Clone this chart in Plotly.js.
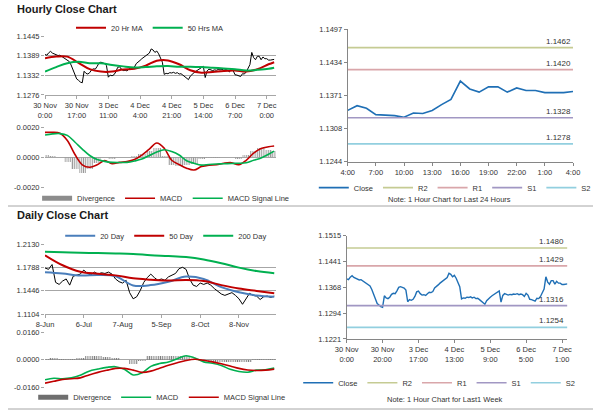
<!DOCTYPE html>
<html><head><meta charset="utf-8">
<script src="https://cdn.plot.ly/plotly-3.0.1.min.js"></script>
<style>html,body{margin:0;padding:0;background:#fff;}#c{width:600px;height:413px;}</style>
</head><body><div id="c"></div>
<script>
// ---------- DATA ----------
// Hourly closes, 30 Nov 0:00 .. 7 Dec 4:00 (124 hourly bars)
const hourlyClose = [
1.1392,1.1390,1.1397,1.1401,1.1396,1.1393,1.1392,1.1389,1.1390,1.1386,
1.1383,1.1380,1.1376,1.1372,1.1362,1.1348,1.1330,1.1322,1.1318,1.1313,
1.1311,1.1344,1.1338,1.1336,1.1340,1.1348,1.1351,1.1350,1.1358,1.1368,
1.1370,1.1367,1.1366,1.1360,1.1327,1.1333,1.1331,1.1334,1.1342,1.1355,
1.1357,1.1350,1.1346,1.1347,1.1345,1.1350,1.1354,1.1353,1.1356,1.1366,
1.1372,1.1375,1.1380,1.1384,1.1388,1.1392,1.1396,1.1408,1.1405,1.1398,
1.1402,1.1394,1.1380,1.1370,1.1335,1.1338,1.1337,1.1340,1.1339,1.1341,
1.1338,1.1340,1.1336,1.1337,1.1333,1.1328,1.1323,1.1320,1.1330,1.1336,
1.1340,1.1344,1.1348,1.1352,1.1355,1.1358,1.1326,1.1345,1.1350,1.1349,
1.1346,1.1348,1.1347,1.1349,1.1348,1.1350,1.1347,1.1349,1.1347,
1.1342,1.1351,1.1346,1.1334,1.1333,1.1332,1.1329,1.1337,1.1336,1.1342,
1.1353,1.1363,1.1398,1.1383,1.1377,1.1387,1.1387,1.1377,1.1385,1.1380,
1.1380,1.1376,1.1376,1.1376,1.1378];
// Hourly moving averages (sampled bars)
const hMaIdx = [0,6,12,18,24,30,36,42,48,54,60,66,72,78,84,90,96,102,108,114,120,123];
const ma20h = [1.1381,1.1386,1.1386,1.1368,1.1350,1.1343,1.1343,1.1349,1.1351,1.1360,1.1374,1.1375,1.1364,1.1347,1.1340,1.1342,1.1345,1.1346,1.1343,1.1350,1.1364,1.1370];
const ma50h = [1.1343,1.1356,1.1367,1.1371,1.1367,1.1367,1.1362,1.1358,1.1355,1.1356,1.1358,1.1359,1.1357,1.1357,1.1356,1.1354,1.1352,1.1350,1.1346,1.1348,1.1351,1.1354];
// Hourly MACD (sampled bars)
const hMacdIdx = [0,4,8,12,16,20,24,28,32,36,40,44,48,52,56,60,64,68,72,76,80,84,88,92,96,100,104,108,112,116,120,123];
const hMacd = [0.00166,0.00167,0.00160,0.00112,0.00020,-0.00050,-0.00066,-0.00050,-0.00022,-0.00043,-0.00034,-0.00029,-0.00015,0.00015,0.00055,0.00095,0.00060,-0.00020,-0.00048,-0.00073,-0.00085,-0.00062,-0.00052,-0.00050,-0.00040,-0.00036,-0.00050,-0.00020,0.00028,0.00058,0.00070,0.00075];
const hSignal = [0.00148,0.00156,0.00158,0.00146,0.00102,0.00055,0.00012,-0.00015,-0.00027,-0.00034,-0.00035,-0.00034,-0.00025,-0.00012,0.00012,0.00035,0.00050,0.00038,0.00015,-0.00023,-0.00040,-0.00052,-0.00048,-0.00045,-0.00043,-0.00041,-0.00040,-0.00036,-0.00020,-0.00005,0.00020,0.00041];
const hDiv = [0.00015,0.00010,0.00005,-0.00030,-0.00080,-0.00105,-0.00080,-0.00040,0.00005,-0.00010,0.00000,0.00005,0.00010,0.00025,0.00040,0.00060,0.00010,-0.00050,-0.00060,-0.00050,-0.00045,-0.00010,-0.00005,-0.00005,0.00003,0.00005,-0.00010,0.00015,0.00045,0.00060,0.00050,0.00040];
const hTickIdx = [0,17,34,51,68,85,102,119];
const hTickText = ['30 Nov<br>0:00','30 Nov<br>17:00','3 Dec<br>11:00','4 Dec<br>4:00','4 Dec<br>21:00','5 Dec<br>14:00','6 Dec<br>7:00','7 Dec<br>0:00'];
const wTickIdx = [0,20,40,60,80,100,120];
const wTickText = ['30 Nov<br>0:00','30 Nov<br>20:00','3 Dec<br>17:00','4 Dec<br>13:00','5 Dec<br>9:00','6 Dec<br>5:00','7 Dec<br>1:00'];
const dTickIdx24 = [99,102,105,108,111,114,117,120,123];
const dTickText24 = ['4:00','7:00','10:00','13:00','16:00','19:00','22:00','1:00','4:00'];
// Pivot levels
const levelNames = ['R2','R1','S1','S2'];
const levelColors = ['#c5cb93','#d9a6aa','#a197c3','#92cfdf'];
const levels24h = [1.1462,1.1420,1.1328,1.1278];
const levelsWeek = [1.1480,1.1429,1.1316,1.1254];
// Daily closes (every 2nd trading day from 8 Jun)
const dCloseIdx = [0,2,4,6,8,10,12,14,16,18,20,22,24,26,28,30,32,34,36,38,40,42,44,46,48,50,52,54,56,58,60,62,64,66,68,70,72,74,76,78,80,82,84,86,88,90,92,94,96,98,100,102,104,106,108,110,112,114,116,118,120,122,124,126,128,130];
const dailyClose = [1.1780,1.1760,1.1830,1.1570,1.1540,1.1590,1.1620,1.1530,1.1660,1.1680,1.1690,1.1750,1.1700,1.1680,1.1720,1.1690,1.1710,1.1700,1.1720,1.1690,1.1620,1.1580,1.1560,1.1600,1.1420,1.1330,1.1360,1.1450,1.1570,1.1640,1.1690,1.1640,1.1600,1.1620,1.1600,1.1650,1.1680,1.1700,1.1770,1.1790,1.1760,1.1620,1.1530,1.1510,1.1560,1.1540,1.1560,1.1530,1.1480,1.1440,1.1400,1.1380,1.1400,1.1420,1.1380,1.1330,1.1250,1.1330,1.1410,1.1380,1.1370,1.1320,1.1360,1.1370,1.1350,1.1370];
const dMaIdx = [0,10,20,30,40,50,60,70,80,90,100,110,120,130];
const ma20d = [1.1718,1.1700,1.1669,1.1677,1.1660,1.1525,1.1530,1.1580,1.1654,1.1620,1.1500,1.1425,1.1378,1.1361];
const ma50d = [1.1966,1.1820,1.1725,1.1695,1.1672,1.1630,1.1610,1.1596,1.1605,1.1590,1.1530,1.1480,1.1445,1.1411];
const ma200d = [1.2016,1.2010,1.2003,1.1998,1.1993,1.1985,1.1966,1.1955,1.1940,1.1905,1.1850,1.1785,1.1735,1.1703];
const dMacdIdx = [0,5,10,15,20,25,30,35,40,45,50,55,60,65,70,75,80,85,90,95,100,105,110,115,120,125,130];
const dMacd = [-0.0116,-0.0107,-0.0110,-0.0105,-0.0090,-0.0066,-0.0054,-0.0044,-0.0040,-0.0055,-0.0088,-0.0076,-0.0038,-0.0022,-0.0013,0.0006,0.0024,0.0010,-0.0012,-0.0020,-0.0033,-0.0055,-0.0068,-0.0072,-0.0060,-0.0058,-0.0048];
const dSignal = [-0.0136,-0.0125,-0.0114,-0.0110,-0.0105,-0.0088,-0.0073,-0.0061,-0.0050,-0.0050,-0.0060,-0.0073,-0.0066,-0.0049,-0.0032,-0.0017,-0.0004,0.0003,-0.0003,-0.0012,-0.0023,-0.0036,-0.0050,-0.0059,-0.0062,-0.0060,-0.0054];
const dDiv = [0.0005,0.0008,0.0004,0.0005,0.0012,0.0020,0.0020,0.0018,0.0012,-0.0003,-0.0025,-0.0008,0.0025,0.0025,0.0020,0.0022,0.0025,0.0007,-0.0009,-0.0010,-0.0012,-0.0015,-0.0015,-0.0013,0.0002,0.0002,0.0005];
const dTickIdx = [0,22,44,66,88,110];
const dTickText = ['8-Jun','6-Jul','7-Aug','5-Sep','8-Oct','8-Nov'];

// ---------- BUILD ----------
const F = 'Liberation Sans, Arial, sans-serif';
const hIdx = hourlyClose.map((_, i) => i);
const last24Idx = hIdx.slice(99);
const last24 = hourlyClose.slice(99);
const RED = '#c00000', GREEN = '#00b050', BLUE = '#1f6fb5', DIVC = '#8c8c8c';
const tf = {family: F, size: 7.5, color: '#333'};
const traces = [];
const ln = (o) => Object.assign({type: 'scatter', mode: 'lines', hoverinfo: 'skip'}, o);
const hatch = {shape: '|', size: 2.2, solidity: 0.5};

traces.push(ln({x: hIdx, y: hourlyClose, xaxis: 'x', yaxis: 'y', line: {color: '#000', width: 1}, showlegend: false}));
traces.push(ln({x: hMaIdx, y: ma20h, xaxis: 'x', yaxis: 'y', name: '20 Hr MA', line: {color: RED, width: 2, shape: 'spline'}, legend: 'legend'}));
traces.push(ln({x: hMaIdx, y: ma50h, xaxis: 'x', yaxis: 'y', name: '50 Hrs MA', line: {color: GREEN, width: 2, shape: 'spline'}, legend: 'legend'}));

traces.push({type: 'bar', x: hMacdIdx, y: hDiv, width: 4, xaxis: 'x2', yaxis: 'y2', name: 'Divergence', marker: {color: '#9a9a9a', pattern: hatch}, showlegend: false, hoverinfo: 'skip'});
traces.push(ln({x: [null], y: [null], xaxis: 'x2', yaxis: 'y2', name: 'Divergence', line: {color: DIVC, width: 5}, legend: 'legend2'}));
traces.push(ln({x: hMacdIdx, y: hMacd, xaxis: 'x2', yaxis: 'y2', name: 'MACD', line: {color: RED, width: 1.6, shape: 'spline'}, legend: 'legend2'}));
traces.push(ln({x: hMacdIdx, y: hSignal, xaxis: 'x2', yaxis: 'y2', name: 'MACD Signal Line', line: {color: GREEN, width: 1.6, shape: 'spline'}, legend: 'legend2'}));

traces.push(ln({x: last24Idx, y: last24, xaxis: 'x3', yaxis: 'y3', name: 'Close', line: {color: BLUE, width: 1.6}, legend: 'legend3'}));
levelNames.forEach((n, i) => traces.push(ln({x: [last24Idx[0], last24Idx[last24Idx.length - 1]], y: [levels24h[i], levels24h[i]], xaxis: 'x3', yaxis: 'y3', name: n, line: {color: levelColors[i], width: 1.6}, legend: 'legend3'})));

traces.push(ln({x: dCloseIdx, y: dailyClose, xaxis: 'x4', yaxis: 'y4', line: {color: '#000', width: 1}, showlegend: false}));
traces.push(ln({x: dMaIdx, y: ma20d, xaxis: 'x4', yaxis: 'y4', name: '20 Day', line: {color: '#4a7ebb', width: 2, shape: 'spline'}, legend: 'legend4'}));
traces.push(ln({x: dMaIdx, y: ma50d, xaxis: 'x4', yaxis: 'y4', name: '50 Day', line: {color: RED, width: 2, shape: 'spline'}, legend: 'legend4'}));
traces.push(ln({x: dMaIdx, y: ma200d, xaxis: 'x4', yaxis: 'y4', name: '200 Day', line: {color: GREEN, width: 2, shape: 'spline'}, legend: 'legend4'}));

traces.push({type: 'bar', x: dMacdIdx, y: dDiv, width: 5, xaxis: 'x5', yaxis: 'y5', name: 'Divergence', marker: {color: '#7f7f7f', pattern: hatch}, showlegend: false, hoverinfo: 'skip'});
traces.push(ln({x: [null], y: [null], xaxis: 'x5', yaxis: 'y5', name: 'Divergence', line: {color: '#6f6f6f', width: 5}, legend: 'legend5'}));
traces.push(ln({x: dMacdIdx, y: dMacd, xaxis: 'x5', yaxis: 'y5', name: 'MACD', line: {color: GREEN, width: 1.6, shape: 'spline'}, legend: 'legend5'}));
traces.push(ln({x: dMacdIdx, y: dSignal, xaxis: 'x5', yaxis: 'y5', name: 'MACD Signal Line', line: {color: RED, width: 1.6, shape: 'spline'}, legend: 'legend5'}));

traces.push(ln({x: hIdx, y: hourlyClose, xaxis: 'x6', yaxis: 'y6', name: 'Close', line: {color: BLUE, width: 1.4}, legend: 'legend6'}));
levelNames.forEach((n, i) => traces.push(ln({x: [hIdx[0], hIdx[hIdx.length - 1]], y: [levelsWeek[i], levelsWeek[i]], xaxis: 'x6', yaxis: 'y6', name: n, line: {color: levelColors[i], width: 1.6}, legend: 'legend6'})));

const GRID = '#a6a6a6';
const leftY = (dom, rng, vals, text, anchor) => ({domain: dom, range: rng, tickvals: vals, ticktext: text, showgrid: true, gridcolor: GRID, gridwidth: 1, zeroline: false, showline: false, ticks: 'outside', ticklen: 3, tickcolor: GRID, tickfont: tf, anchor: anchor, fixedrange: true});
const fmt = (a) => a.map(v => (v < 0 ? '-' : '') + Math.abs(v).toFixed(4));
const rightY = (dom, rng, vals, anchor) => ({domain: dom, range: rng, tickvals: vals, ticktext: fmt(vals), showgrid: false, zeroline: false, showline: true, linecolor: '#868686', ticks: 'outside', ticklen: 3, tickcolor: '#868686', tickfont: tf, anchor: anchor});
const LX = [0.075, 0.46];

const yT1 = [1.1276, 1.1332, 1.1389, 1.1445];
const yT2 = [-0.002, 0, 0.002];
const yT4 = [1.1104, 1.1446, 1.1788, 1.2130];
const yT5 = [-0.016, 0, 0.016];
const yT3 = [1.1244, 1.1308, 1.1371, 1.1434, 1.1497];
const yT6 = [1.1221, 1.1294, 1.1368, 1.1441, 1.1515];

const legendBase = (x, y) => ({orientation: 'h', x: x, y: y, xanchor: 'center', yanchor: 'middle', font: {family: F, size: 7.5, color: '#333'}, bgcolor: 'rgba(0,0,0,0)', itemwidth: 30, tracegroupgap: 0, traceorder: 'normal'});

const annotations = [
  {text: '<b>Hourly Close Chart</b>', xref: 'paper', yref: 'paper', x: 0.025, y: 0.978, xanchor: 'left', yanchor: 'middle', showarrow: false, font: {family: F, size: 11, color: '#1a1a1a'}},
  {text: '<b>Daily Close Chart</b>', xref: 'paper', yref: 'paper', x: 0.025, y: 0.4794, xanchor: 'left', yanchor: 'middle', showarrow: false, font: {family: F, size: 11, color: '#1a1a1a'}},
  {text: 'Note: 1 Hour Chart for Last 24 Hours', xref: 'paper', yref: 'paper', x: 449 / 600, y: 1 - 200 / 413, xanchor: 'center', yanchor: 'middle', showarrow: false, font: {family: F, size: 7.5, color: '#333'}},
  {text: 'Note: 1 Hour Chart for Last1 Week', xref: 'paper', yref: 'paper', x: 445 / 600, y: 1 - 399 / 413, xanchor: 'center', yanchor: 'middle', showarrow: false, font: {family: F, size: 7.5, color: '#333'}}
];
levels24h.forEach(v => annotations.push({text: v.toFixed(4), xref: 'x3', yref: 'y3', x: last24Idx[last24Idx.length - 1], y: v, xanchor: 'right', yanchor: 'bottom', yshift: 0, showarrow: false, font: {family: F, size: 8, color: '#333'}}));
levelsWeek.forEach(v => annotations.push({text: v.toFixed(4), xref: 'x6', yref: 'y6', x: hIdx[hIdx.length - 1] - 1, y: v, xanchor: 'right', yanchor: 'bottom', yshift: 0, showarrow: false, font: {family: F, size: 8, color: '#333'}}));

const layout = {
  width: 600, height: 413, margin: {l: 0, r: 0, t: 0, b: 0}, paper_bgcolor: '#fff', plot_bgcolor: 'rgba(0,0,0,0)',
  font: {family: F, size: 7.5, color: '#333'}, showlegend: true, barmode: 'overlay', bargap: 0,
  xaxis: {domain: LX, range: [0, 124], tickvals: hTickIdx, ticktext: hTickText, showgrid: false, zeroline: false, showline: true, linecolor: GRID, ticks: 'outside', ticklen: 3, tickcolor: GRID, tickfont: tf, anchor: 'y'},
  yaxis: leftY([0.770, 0.9128], [1.1276, 1.1445], yT1, fmt(yT1), 'x'),
  xaxis2: {domain: LX, range: [0, 124], showticklabels: false, showgrid: false, zeroline: false, showline: false, ticks: '', anchor: 'y2'},
  yaxis2: leftY([0.5465, 0.6918], [-0.002, 0.002], yT2, fmt(yT2), 'x2'),
  xaxis3: {domain: [0.5795, 0.955], range: [99, 123], tickvals: dTickIdx24, ticktext: dTickText24, showgrid: false, zeroline: false, showline: true, linecolor: '#868686', ticks: 'outside', ticklen: 3, tickcolor: '#868686', tickfont: tf, anchor: 'y3'},
  yaxis3: rightY([0.6085, 0.9291], [1.1244, 1.1497], yT3, 'x3'),
  xaxis4: {domain: LX, range: [0, 131], tickvals: dTickIdx, ticktext: dTickText, showgrid: false, zeroline: false, showline: true, linecolor: GRID, ticks: 'outside', ticklen: 3, tickcolor: GRID, tickfont: tf, anchor: 'y4'},
  yaxis4: leftY([0.2390, 0.4092], [1.1104, 1.2130], yT4, fmt(yT4), 'x4'),
  xaxis5: {domain: LX, range: [0, 131], showticklabels: false, showgrid: false, zeroline: false, showline: false, ticks: '', anchor: 'y5'},
  yaxis5: leftY([0.0622, 0.1954], [-0.016, 0.016], yT5, fmt(yT5), 'x5'),
  xaxis6: {domain: [0.5778, 0.9457], range: [0, 123], tickvals: wTickIdx, ticktext: wTickText, showgrid: false, zeroline: false, showline: true, linecolor: '#868686', ticks: 'outside', ticklen: 3, tickcolor: '#868686', tickfont: tf, anchor: 'y6'},
  yaxis6: rightY([0.1792, 0.4293], [1.1221, 1.1515], yT6, 'x6'),
  legend: legendBase(0.25, 0.933),
  legend2: legendBase(0.276, 0.5198),
  legend3: legendBase(0.758, 0.5456),
  legend4: legendBase(0.277, 0.4293),
  legend5: legendBase(0.2695, 0.038),
  legend6: legendBase(0.732, 0.0734),
  annotations: annotations,
  shapes: [
    {type: 'line', xref: 'paper', yref: 'paper', x0: 8 / 600, x1: 593 / 600, y0: 1 - 206 / 413, y1: 1 - 206 / 413, line: {color: '#a6a6a6', width: 1}},
    {type: 'line', xref: 'paper', yref: 'paper', x0: 8 / 600, x1: 593 / 600, y0: 1 - 409 / 413, y1: 1 - 409 / 413, line: {color: '#a6a6a6', width: 1}}
  ]
};
Plotly.newPlot('c', traces, layout, {staticPlot: true, displayModeBar: false});
</script></body></html>
